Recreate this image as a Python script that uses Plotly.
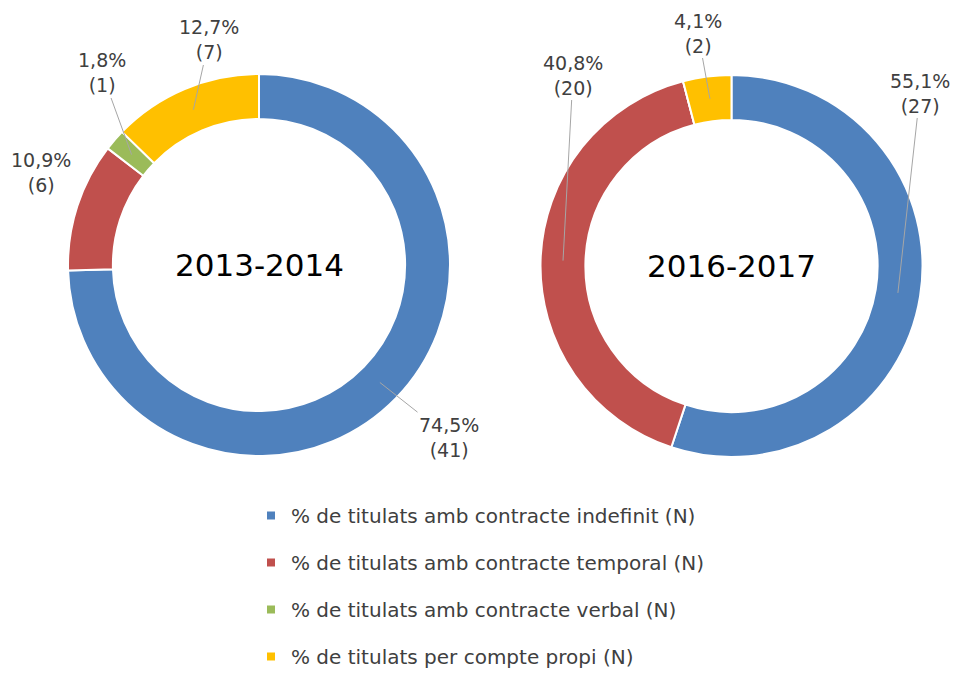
import math
import plotly.graph_objects as go

# ---- data ----
categories = [
    "% de titulats amb contracte indefinit (N)",
    "% de titulats amb contracte temporal (N)",
    "% de titulats amb contracte verbal (N)",
    "% de titulats per compte propi (N)",
]
years = ["2013-2014", "2016-2017"]
counts_2013 = [41, 6, 1, 7]
counts_2016 = [27, 20, 0, 2]

# ---- style / layout ----
colors = ["#4F81BD", "#C0504D", "#9BBB59", "#FFC000"]
W, H = 954, 673
centers = [(259, 265), (731.5, 266)]   # pixel centres of the donuts
R_OUT = 191
HOLE = 0.765
# label centre positions (pixels) for each slice; None = no label
label_pos = [
    [(449, 437), (41, 172), (102, 73), (209, 40)],
    [(920, 93), (573, 75), None, (698, 33)],
]
label_arrow = [[True, False, True, True], [True, True, False, True]]

FONT = "DejaVu Sans"
TXT = "#404040"

def px2paper(x, y):
    return x / W, 1 - y / H

fig = go.Figure()
annotations = []
for k, (counts, year) in enumerate(zip([counts_2013, counts_2016], years)):
    cx, cy = centers[k]
    fig.add_trace(go.Pie(
        labels=categories, values=counts, sort=False, direction="clockwise",
        rotation=0, hole=HOLE, textinfo="none", hoverinfo="label+value+percent",
        marker=dict(colors=colors, line=dict(color="white", width=2)),
        domain=dict(x=[(cx - R_OUT) / W, (cx + R_OUT) / W],
                    y=[1 - (cy + R_OUT) / H, 1 - (cy - R_OUT) / H]),
        showlegend=False,
    ))
    # centre title
    xp, yp = px2paper(cx, cy)
    annotations.append(dict(x=xp, y=yp, xref="paper", yref="paper", text=year,
                            xanchor="center", yanchor="middle",
                            showarrow=False, font=dict(family=FONT, size=31, color="black")))
    total = sum(counts)
    cum = 0
    r_mid = R_OUT * (1 + HOLE) / 2
    for i, v in enumerate(counts):
        start = cum
        cum += v
        if v == 0 or label_pos[k][i] is None:
            continue
        mid = (start + v / 2) / total * 2 * math.pi
        pxm = cx + r_mid * math.sin(mid)
        pym = cy - r_mid * math.cos(mid)
        lx, ly = label_pos[k][i]
        pct = f"{v / total * 100:.1f}".replace(".", ",")
        text = f"{pct}%<br>({v})"
        if label_arrow[k][i]:
            xp, yp = px2paper(pxm, pym)
            annotations.append(dict(x=xp, y=yp, xref="paper", yref="paper", text=text,
                                    showarrow=True, arrowhead=0, arrowwidth=1,
                                    arrowcolor="#A6A6A6", ax=lx - pxm, ay=ly - pym,
                                    standoff=0, startstandoff=0,
                                    font=dict(family=FONT, size=19, color=TXT)))
        else:
            xp, yp = px2paper(lx, ly)
            annotations.append(dict(x=xp, y=yp, xref="paper", yref="paper", text=text,
                                    xanchor="center", yanchor="middle",
                                    showarrow=False,
                                    font=dict(family=FONT, size=19, color=TXT)))

# legend entries (one group per category for spacing)
for name, c in zip(categories, colors):
    fig.add_trace(go.Scatter(x=[None], y=[None], mode="markers", name=name,
                             legendgroup=name,
                             marker=dict(symbol="square", size=8, color=c)))

fig.update_layout(
    width=W, height=H,
    margin=dict(l=0, r=0, t=0, b=0, autoexpand=False),
    paper_bgcolor="white", plot_bgcolor="white",
    xaxis=dict(visible=False), yaxis=dict(visible=False),
    annotations=annotations,
    legend=dict(x=251 / W, y=1 - 496 / H, xanchor="left", yanchor="top",
                font=dict(family=FONT, size=20, color=TXT),
                tracegroupgap=18, itemwidth=30, bgcolor="rgba(0,0,0,0)"),
)

fig.write_html("out.html", config={"displayModeBar": False},
               post_script="document.body.style.margin='0';")
